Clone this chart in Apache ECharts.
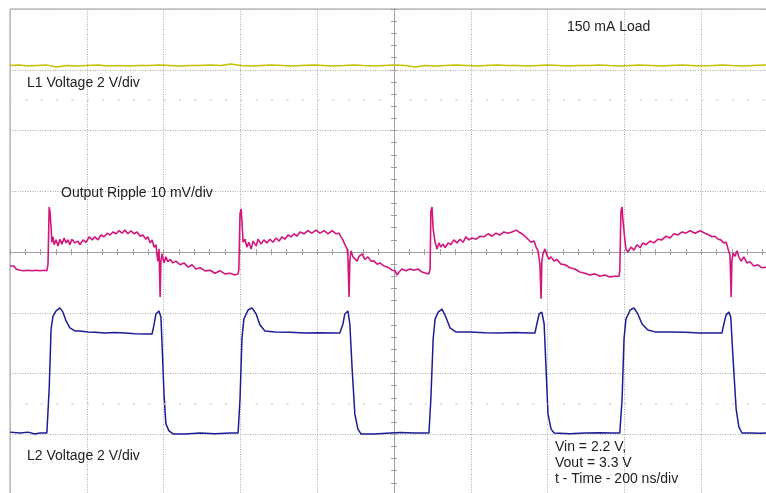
<!DOCTYPE html>
<html>
<head>
<meta charset="utf-8">
<script src="https://cdn.jsdelivr.net/npm/echarts@6.0.0/dist/echarts.min.js"></script>
<style>
html,body{margin:0;padding:0;background:#fff;overflow:hidden;}
#c{width:766px;height:493px;}
</style>
</head>
<body>
<div id="c"></div>
<script>
// Channel settings (scope): 200 ns/div, L1 & L2 2 V/div, ripple 10 mV/div
const l1VoltsPerDiv = 2, l1GroundDiv = 2;
const l2VoltsPerDiv = 2, l2GroundDiv = -3;
const rippleMvPerDiv = 10, rippleCenterDiv = 0;

// L1 voltage trace [time ns, volts]
const l1Trace = [[-1000,2.14],[-975,2.16],[-955,2.12],[-930,2.14],[-905,2.16],[-880,2.09],[-850,2.14],[-825,2.12],[-800,2.14],[-770,2.16],[-745,2.12],[-720,2.14],[-690,2.12],[-665,2.14],[-640,2.14],[-610,2.16],[-585,2.14],[-560,2.12],[-530,2.14],[-505,2.14],[-480,2.16],[-450,2.14],[-425,2.19],[-400,2.14],[-370,2.12],[-345,2.14],[-320,2.16],[-290,2.14],[-265,2.12],[-240,2.14],[-210,2.16],[-185,2.14],[-160,2.12],[-130,2.14],[-105,2.16],[-80,2.14],[-50,2.12],[-25,2.14],[0,2.16],[30,2.14],[55,2.09],[80,2.14],[110,2.12],[135,2.14],[160,2.16],[190,2.14],[215,2.12],[240,2.14],[270,2.16],[295,2.14],[320,2.14],[350,2.12],[375,2.14],[400,2.16],[430,2.14],[455,2.12],[480,2.14],[510,2.14],[535,2.16],[560,2.14],[590,2.12],[615,2.14],[640,2.16],[670,2.14],[695,2.12],[720,2.14],[750,2.16],[775,2.14],[800,2.12],[830,2.14],[855,2.16],[880,2.14],[910,2.12],[935,2.14],[960,2.16],[1000,2.14]];

// Output ripple trace [time ns, mV]
const rippleTrace = [
[-1000,-2.3],[-990,-2.3],[-984,-2.8],[-974,-3.0],[-964,-3.1],[-953,-3.0],[-943,-3.1],[-932,-3.0],[-922,-3.1],[-911,-3.0],[-904,-3.1],
[-901,-2.0],[-898,7.4],[-896,6.7],[-893,4.1],[-891,1.6],[-888,2.5],[-885,1.2],[-880,2.0],[-875,1.0],[-870,2.1],[-865,1.3],[-859,2.3],[-854,1.5],[-849,2.0],[-844,1.2],[-839,2.1],[-831,1.5],[-823,1.8],[-818,1.2],[-810,2.0],[-802,1.6],[-794,2.5],[-786,2.0],[-779,2.5],[-771,2.0],[-763,2.8],[-755,2.5],[-747,3.1],[-740,2.8],[-732,3.3],[-724,3.0],[-716,3.5],[-708,3.1],[-701,3.6],[-693,3.0],[-685,3.5],[-677,3.0],[-669,3.3],[-661,2.6],[-654,2.8],[-646,2.1],[-641,2.5],[-635,1.5],[-630,2.0],[-625,0.8],[-620,1.2],[-617,-0.5],[-615,-1.5],[-612,0.5],[-609,-7.4],[-607,-1.5],[-604,-0.3],[-599,-1.8],[-594,-0.8],[-589,-1.6],[-583,-1.2],[-576,-1.8],[-568,-1.5],[-557,-2.1],[-547,-1.8],[-536,-2.5],[-526,-2.1],[-516,-2.8],[-505,-2.6],[-492,-3.1],[-479,-3.0],[-466,-3.5],[-453,-3.1],[-440,-3.6],[-427,-3.5],[-414,-3.8],[-406,-3.6],
[-404,-2.8],[-401,6.3],[-398,7.1],[-396,5.1],[-393,1.6],[-388,2.1],[-383,0.8],[-378,1.6],[-372,0.5],[-367,1.8],[-359,1.0],[-354,2.1],[-346,1.3],[-339,2.0],[-331,1.5],[-323,2.1],[-315,1.6],[-307,2.3],[-299,1.8],[-292,2.5],[-284,2.1],[-276,2.8],[-268,2.5],[-260,3.0],[-253,2.6],[-245,3.3],[-234,3.0],[-224,3.5],[-214,3.1],[-203,3.6],[-193,3.1],[-182,3.5],[-172,3.0],[-161,3.5],[-151,3.0],[-143,3.1],[-138,2.5],[-133,2.0],[-128,1.2],[-122,0.5],[-120,-0.8],[-117,-7.4],[-115,-1.5],[-112,0.2],[-107,-0.8],[-102,-0.5],[-96,-1.5],[-91,-0.7],[-83,-0.3],[-76,-1.2],[-68,-0.8],[-60,-1.5],[-52,-1.5],[-44,-2.0],[-37,-1.8],[-26,-2.3],[-16,-2.5],[-5,-3.0],[3,-3.1],[8,-3.8],[13,-3.3],[21,-2.8],[31,-3.1],[42,-2.8],[52,-3.0],[62,-2.8],[73,-3.3],[83,-3.5],[91,-3.6],
[94,-2.8],[96,6.7],[99,7.4],[102,3.8],[107,1.6],[112,0.5],[117,1.5],[122,0.8],[128,1.3],[133,0.7],[141,1.5],[148,1.2],[156,2.0],[164,1.5],[172,2.1],[180,1.6],[187,2.5],[195,2.0],[203,2.3],[214,2.1],[224,2.6],[234,2.5],[245,3.0],[255,2.6],[266,3.1],[276,2.8],[286,3.3],[297,3.1],[307,3.3],[318,3.6],[325,3.3],[333,3.0],[341,2.6],[349,2.1],[357,1.6],[365,1.8],[370,0.8],[375,0.2],[380,-2.0],[383,-7.7],[385,-1.5],[388,-0.3],[393,0.5],[398,-0.5],[404,-1.2],[409,-0.8],[417,-1.5],[424,-1.2],[435,-2.0],[445,-2.1],[458,-2.6],[471,-2.8],[484,-3.3],[497,-3.5],[510,-3.8],[523,-3.6],[536,-4.0],[549,-3.8],[562,-4.1],[575,-4.0],[586,-4.0],
[588,-3.1],[591,6.7],[594,7.4],[596,5.4],[601,2.1],[604,0.5],[609,0.0],[617,0.8],[625,0.3],[633,1.2],[641,0.7],[648,1.5],[656,1.2],[667,1.8],[677,1.5],[687,2.1],[698,2.0],[708,2.6],[719,2.3],[729,3.0],[740,2.8],[750,3.3],[760,3.1],[771,3.5],[784,3.1],[797,3.5],[810,3.1],[820,2.8],[828,2.5],[836,2.6],[844,2.1],[851,2.0],[859,1.5],[865,1.6],[870,0.5],[875,-0.5],[878,-7.4],[880,-1.5],[883,-0.2],[888,-0.7],[893,0.2],[898,-0.8],[904,-1.5],[911,-0.8],[919,-1.8],[927,-1.6],[937,-2.3],[948,-2.1],[958,-2.6],[969,-2.5],[984,-2.8],[1000,-2.8]
];

// L2 voltage trace [time ns, volts]
const l2Trace = [
[-1000,0.07],[-974,0.04],[-953,0.07],[-935,0.01],[-922,0.04],[-904,0.04],
[-898,1.49],[-893,3.47],[-888,3.89],[-880,4.06],[-870,4.16],[-862,4.02],[-854,3.73],[-844,3.50],[-831,3.40],[-818,3.40],[-797,3.37],[-779,3.36],[-753,3.33],[-727,3.35],[-701,3.33],[-674,3.31],[-648,3.30],[-630,3.30],
[-625,3.60],[-620,3.96],[-612,4.06],[-607,3.86],[-604,2.97],[-599,1.33],[-594,0.34],[-586,0.11],[-575,0.01],[-544,0.01],[-505,0.04],[-466,0.02],[-427,0.04],[-406,0.04],
[-401,1.16],[-396,3.14],[-391,3.79],[-380,4.09],[-370,4.16],[-359,3.96],[-349,3.60],[-336,3.40],[-310,3.37],[-271,3.36],[-232,3.33],[-193,3.34],[-159,3.33],[-141,3.33],
[-133,3.63],[-128,3.96],[-120,4.06],[-115,3.63],[-109,2.15],[-102,0.67],[-94,0.17],[-86,0.01],[-50,0.01],[-10,0.04],[16,0.06],[55,0.04],[91,0.04],
[96,1.16],[102,3.14],[107,3.79],[115,4.02],[125,4.12],[135,3.86],[146,3.50],[161,3.37],[198,3.37],[237,3.34],[276,3.33],[315,3.35],[354,3.33],[367,3.33],
[372,3.63],[378,3.96],[385,4.02],[391,3.63],[396,2.15],[401,0.67],[409,0.17],[417,0.04],[458,0.02],[497,0.04],[536,0.05],[568,0.04],[588,0.04],
[594,1.16],[599,3.14],[604,3.79],[615,4.09],[625,4.16],[635,3.96],[646,3.63],[661,3.43],[680,3.37],[719,3.37],[758,3.36],[797,3.33],[836,3.33],[854,3.33],
[859,3.63],[865,3.93],[872,4.02],[877,3.86],[883,2.48],[891,0.83],[898,0.24],[906,0.04],[927,0.04],[953,0.03],[974,0.04],[1000,0.04]
];

// Faint reference rows (divisions)
const markerRowsDiv = [2.5, -2.5];

const toDiv = (arr, perDiv, offset) => arr.map(p => [p[0], offset + p[1] / perDiv]);

const gridColor = '#ababab';
const axisColor = '#a0a0a0';
const tickCommon = { show: true, length: 3, lineStyle: { color: axisColor, width: 1 } };

function xAx(pos, split) {
  return {
    type: 'value', min: -1000, max: 1000, interval: 200, position: pos,
    axisLine: { show: true, onZero: true, onZeroAxisIndex: 0, lineStyle: { color: axisColor, width: 1 } },
    axisTick: tickCommon,
    minorTick: { show: true, splitNumber: 5, length: 3, lineStyle: { color: axisColor, width: 1 } },
    axisLabel: { show: false },
    splitLine: { show: split, lineStyle: { color: gridColor, width: 1, type: [1, 1.5] } },
    minorSplitLine: { show: false }
  };
}
function yAx(pos, split) {
  return {
    type: 'value', min: -4, max: 4, interval: 1, position: pos,
    axisLine: { show: true, onZero: true, onZeroAxisIndex: 0, lineStyle: { color: axisColor, width: 1 } },
    axisTick: tickCommon,
    minorTick: { show: true, splitNumber: 5, length: 3, lineStyle: { color: axisColor, width: 1 } },
    axisLabel: { show: false },
    splitLine: { show: split, lineStyle: { color: gridColor, width: 1, type: [1, 1.5] } },
    minorSplitLine: { show: false }
  };
}

const font = '14px "Liberation Sans", Arial, sans-serif';
function txt(x, y, s) {
  return { type: 'text', x: x, y: y, z: 100, silent: true,
    style: { text: s, font: font, fill: '#222222', verticalAlign: 'middle', align: 'left' } };
}

const chart = echarts.init(document.getElementById('c'), null, { renderer: 'canvas' });
chart.setOption({
  animation: false,
  backgroundColor: '#ffffff',
  grid: { left: 10, top: 9, width: 768, height: 486, show: true, borderColor: '#9a9a9a', borderWidth: 1, backgroundColor: '#ffffff', containLabel: false, outerBoundsMode: 'none' },
  xAxis: [xAx('bottom', true), xAx('top', false)],
  yAxis: [yAx('left', true), yAx('right', false)],
  series: [
    {
      type: 'line', name: 'L1', data: toDiv(l1Trace, l1VoltsPerDiv, l1GroundDiv),
      showSymbol: false, symbol: 'none', lineStyle: { color: '#c2c200', width: 1.5 }, z: 3,
      markLine: {
        silent: true, symbol: 'none', label: { show: false },
        lineStyle: { color: '#d4d4d4', width: 1.5, type: [2, 13.36] },
        data: markerRowsDiv.map(v => ({ yAxis: v }))
      }
    },
    {
      type: 'line', name: 'Ripple', data: toDiv(rippleTrace, rippleMvPerDiv, rippleCenterDiv),
      showSymbol: false, symbol: 'none', lineStyle: { color: '#d2167c', width: 1.6 }, z: 4
    },
    {
      type: 'line', name: 'L2', data: toDiv(l2Trace, l2VoltsPerDiv, l2GroundDiv),
      showSymbol: false, symbol: 'none', lineStyle: { color: '#1c1c96', width: 1.5 }, z: 4
    }
  ],
  graphic: [
    txt(567, 27, '150 mA Load'),
    txt(27, 83, 'L1 Voltage 2 V/div'),
    txt(61, 193, 'Output Ripple 10 mV/div'),
    txt(27, 456, 'L2 Voltage 2 V/div'),
    txt(555, 447, 'Vin = 2.2 V,'),
    txt(555, 463, 'Vout = 3.3 V'),
    txt(555, 479, 't - Time - 200 ns/div')
  ]
});
</script>
</body>
</html>
